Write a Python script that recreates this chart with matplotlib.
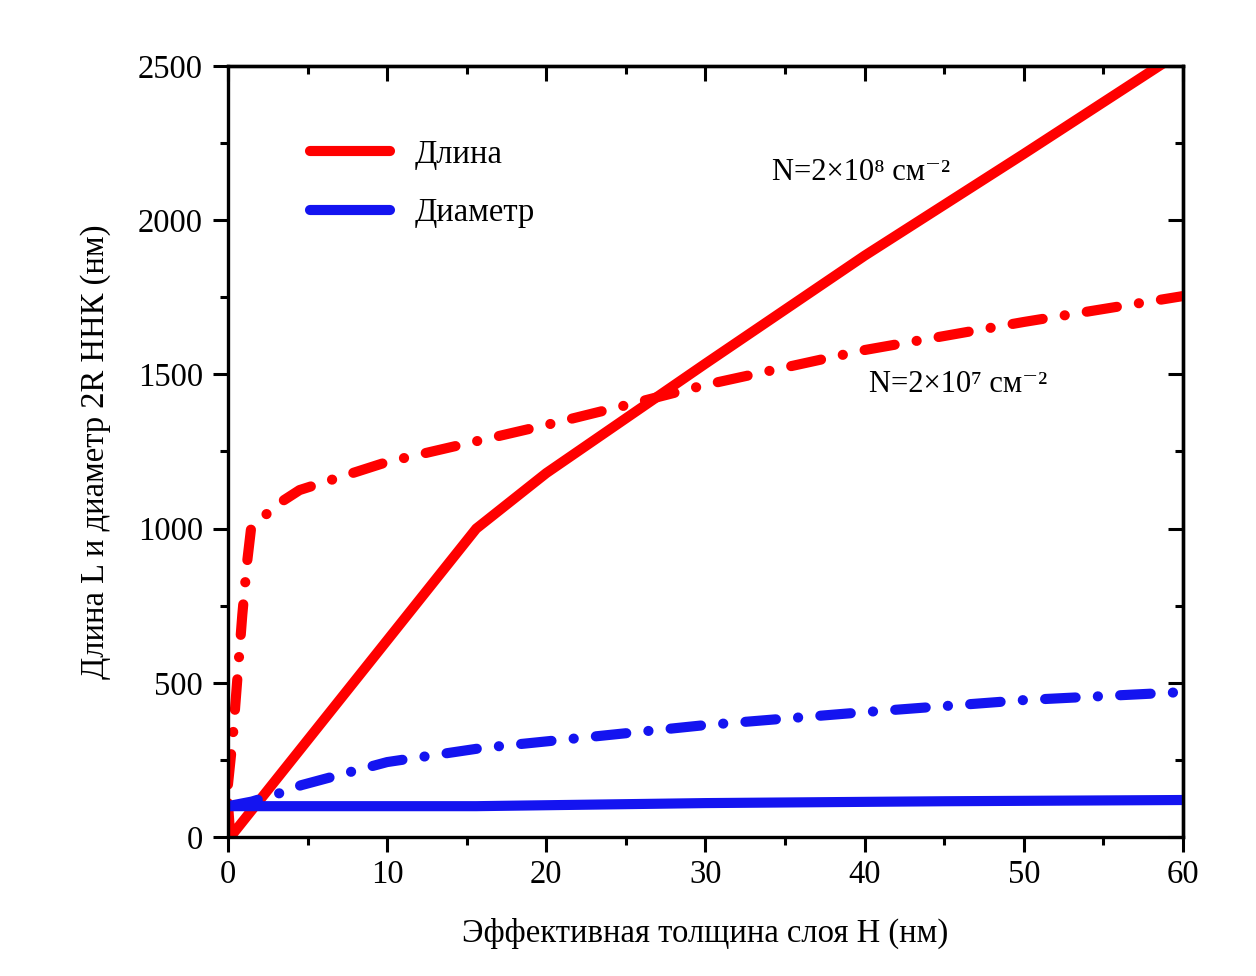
import matplotlib
matplotlib.use("Agg")
import matplotlib.pyplot as plt
from matplotlib.lines import Line2D
from matplotlib.ticker import MultipleLocator

plt.rcParams['font.family'] = ['Liberation Serif', 'DejaVu Serif']
plt.rcParams['lines.scale_dashes'] = False

# Length L, N = 2e8 cm^-2 (solid red)
h_len_hi = [0.0, 0.15, 15.6, 20, 30, 40, 50, 58.5, 60]
len_hi = [110, 0, 1000, 1180, 1535, 1885, 2215, 2500, 2550]

# Length L, N = 2e7 cm^-2 (dash-dot red)
h_len_lo = [0.0, 0.3, 0.6, 0.9, 1.2, 1.45, 3, 4.5, 10, 20, 25, 30, 40, 50, 60]
len_lo = [170, 320, 520, 720, 890, 1000, 1075, 1125, 1216, 1336, 1400, 1466, 1579, 1670, 1754]

# Diameter 2R, N = 2e8 cm^-2 (solid blue)
h_dia_hi = [0.0, 15.6, 30, 45, 60]
dia_hi = [100, 100, 110, 116, 120]

# Diameter 2R, N = 2e7 cm^-2 (dash-dot blue)
h_dia_lo = [0.0, 1.5, 3.3, 4.6, 10, 16, 20, 30, 40, 50, 60]
dia_lo = [100, 115, 143, 168, 243, 289, 310, 363, 405, 444, 470]

x_ticks = [0, 10, 20, 30, 40, 50, 60]
y_ticks = [0, 500, 1000, 1500, 2000, 2500]

RED = '#ff0000'
BLUE = '#1414f0'
LW = 7.3
DASHDOT = (0, (22, 16, 0.1, 16))
FS = 23.5

fig = plt.figure(figsize=(12.56, 9.76), dpi=100)
ax = fig.add_axes([0.1815, 0.1424, 0.7604, 0.79])

ax.plot(h_len_hi, len_hi, color=RED, lw=LW, solid_capstyle='round', solid_joinstyle='round')
ax.plot(h_len_lo, len_lo, color=RED, lw=LW, linestyle=DASHDOT, dash_capstyle='round')
ax.plot(h_dia_lo, dia_lo, color=BLUE, lw=LW, linestyle=DASHDOT, dash_capstyle='round')
ax.plot(h_dia_hi, dia_hi, color=BLUE, lw=LW, solid_capstyle='butt')

ax.set_xlim(0, 60)
ax.set_ylim(0, 2500)
ax.set_xticks(x_ticks)
ax.set_yticks(y_ticks)
ax.xaxis.set_minor_locator(MultipleLocator(5))
ax.yaxis.set_minor_locator(MultipleLocator(250))

for s in ax.spines.values():
    s.set_linewidth(2.4)

ax.tick_params(which='major', direction='out', length=11, width=2.2, labelsize=FS)
ax.tick_params(which='minor', direction='out', length=5.5, width=2.2)
ax.tick_params(axis='x', which='major', pad=5)
ax.tick_params(axis='y', which='major', pad=7)

# inward ticks on the top and right frame
top = ax.secondary_xaxis('top')
top.set_xticks(x_ticks)
top.xaxis.set_minor_locator(MultipleLocator(5))
top.tick_params(which='major', direction='in', length=11, width=2.2, labeltop=False)
top.tick_params(which='minor', direction='in', length=6, width=2.2)
top.spines['top'].set_linewidth(2.4)

right = ax.secondary_yaxis('right')
right.set_yticks(y_ticks)
right.yaxis.set_minor_locator(MultipleLocator(250))
right.tick_params(which='major', direction='in', length=11, width=2.2, labelright=False)
right.tick_params(which='minor', direction='in', length=6, width=2.2)
right.spines['right'].set_linewidth(2.4)

ax.set_xlabel('Эффективная толщина слоя H (нм)', fontsize=FS, labelpad=20)
ax.set_ylabel('Длина L и диаметр 2R ННК (нм)', fontsize=FS, labelpad=19)

ax.text(34.2, 2156, 'N=2×10⁸ см⁻²', fontsize=22, va='center', ha='left')
ax.text(40.3, 1466, 'N=2×10⁷ см⁻²', fontsize=22, va='center', ha='left')

handles = [
    Line2D([], [], color=RED, lw=LW, solid_capstyle='round'),
    Line2D([], [], color=BLUE, lw=LW, solid_capstyle='round'),
]
ax.legend(handles, ['Длина', 'Диаметр'], loc='upper left', bbox_to_anchor=(0.086, 0.905),
          frameon=False, fontsize=FS, handlelength=2.45, handletextpad=0.75,
          labelspacing=0.85, borderpad=0, borderaxespad=0)

fig.savefig('out.png', dpi=100, facecolor='white')
